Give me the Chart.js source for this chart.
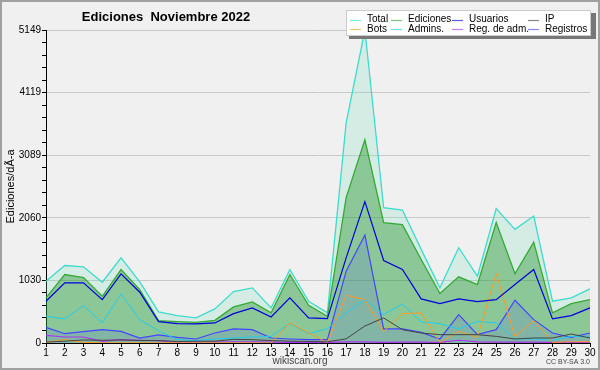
<!DOCTYPE html>
<html>
<head>
<meta charset="utf-8">
<script src="https://cdn.jsdelivr.net/npm/chart.js@4"></script>
<style>
  html, body { margin: 0; padding: 0; background: #f0f0f0; }
  canvas { display: block; }
</style>
</head>
<body>
<canvas id="grafico" width="600" height="370"></canvas>
<script>
let chart;

// días de noviembre
const dias = ["1","2","3","4","5","6","7","8","9","10","11","12","13","14","15","16","17","18","19","20","21","22","23","24","25","26","27","28","29","30"];

const total      = [1016,1275,1254,1000,1402,1006,511,450,412,561,846,907,577,1209,687,495,3620,5149,2228,2188,1540,907,1567,1099,2211,1869,2089,687,742,891];
const ediciones  = [742,1127,1077,769,1209,879,368,351,340,373,594,676,495,1127,620,439,2392,3343,1980,1947,1374,813,1089,962,1980,1138,1660,495,648,714];
const usuarios   = [687,990,990,714,1138,835,351,318,313,330,483,577,429,742,412,401,1400,2326,1358,1209,726,648,726,681,714,962,1209,396,450,577];
const ip         = [15,30,50,45,50,40,40,25,30,30,60,55,40,30,25,20,68,280,412,219,165,137,137,137,109,66,82,82,148,82];
const bots       = [10,55,10,3,3,3,3,3,3,3,3,3,0,330,165,5,786,714,191,483,495,10,191,92,1143,103,368,10,20,20];
const admins     = [439,396,615,330,808,384,203,54,40,66,82,99,109,318,153,236,495,714,467,643,346,318,231,357,330,66,66,45,109,109];
const regAdm     = [125,99,99,26,54,45,40,12,15,15,20,20,15,10,10,10,20,20,10,15,15,10,45,20,15,15,15,10,10,10];
const registros  = [257,153,186,219,191,82,132,92,66,165,231,219,82,66,54,54,1182,1776,231,231,175,66,467,137,219,703,384,165,92,165];

const maxY = 5149;
const yTickLabels = ["0","1030","2060","3089","4119","5149"];

const FONT = "'Liberation Sans', Arial, sans-serif";

// título, leyenda, créditos y marco
const decoracion = {
  id: "decoracion",
  beforeDraw(c){
    const ctx = c.ctx;
    ctx.save();
    ctx.fillStyle = "#f0f0f0";
    ctx.fillRect(0, 0, c.width, c.height);
    ctx.restore();
  },
  afterDraw(c){
    const ctx = c.ctx;
    ctx.save();

    // titulo
    ctx.fillStyle = "#000";
    ctx.font = "bold 13px " + FONT;
    ctx.textAlign = "center";
    ctx.textBaseline = "middle";
    ctx.fillText("Ediciones  Noviembre 2022", 166, 17);

    // créditos
    ctx.font = "10px " + FONT;
    ctx.fillStyle = "#444";
    ctx.fillText("wikiscan.org", 300, 361);
    ctx.font = "7px " + FONT;
    ctx.textAlign = "right";
    ctx.fillText("CC BY-SA 3.0", 590, 362);

    // leyenda
    ctx.fillStyle = "#777";
    ctx.fillRect(349, 13, 247, 26);
    ctx.fillStyle = "#fff";
    ctx.fillRect(346, 10, 245, 26);
    ctx.strokeStyle = "#ccc";
    ctx.lineWidth = 1;
    ctx.strokeRect(346.5, 10.5, 244, 25);

    const cols = [367, 408, 469, 545];
    const filas = [19.5, 29];
    ctx.font = "10px " + FONT;
    ctx.textAlign = "left";
    c.data.datasets.forEach((ds, i) => {
      const x = cols[i % 4];
      const y = filas[Math.floor(i / 4)];
      ctx.globalAlpha = 0.65;
      ctx.strokeStyle = ds.borderColor;
      ctx.lineWidth = 1.2;
      ctx.beginPath();
      ctx.moveTo(x - 17, Math.round(y) + 0.5);
      ctx.lineTo(x - 6, Math.round(y) + 0.5);
      ctx.stroke();
      ctx.globalAlpha = 1;
      ctx.fillStyle = "#000";
      ctx.fillText(ds.label, x, y);
    });

    // marco exterior
    ctx.strokeStyle = "#a0a0a0";
    ctx.lineWidth = 2;
    ctx.strokeRect(1, 1, c.width - 2, c.height - 2);
    ctx.restore();
  }
};

function gerarGrafico(){

  const canvas = document.getElementById("grafico");

  if(chart){
    chart.destroy();
  }

  chart = new Chart(canvas, {
    type: "line",
    data: {
      labels: dias,
      datasets: [
        { label: "Total", data: total, borderColor: "#3cdccc", backgroundColor: "rgba(120,225,190,0.22)", fill: "origin", borderWidth: 1.3, order: 10 },
        { label: "Ediciones", data: ediciones, borderColor: "#33aa33", backgroundColor: "rgba(0,130,0,0.34)", fill: "origin", borderWidth: 1.3, order: 9 },
        { label: "Usuarios", data: usuarios, borderColor: "#0000dd", borderWidth: 1.2, order: 1 },
        { label: "IP", data: ip, borderColor: "#444444", borderWidth: 1, order: 2 },
        { label: "Bots", data: bots, borderColor: "#ff9922", borderWidth: 1, order: 3 },
        { label: "Admins.", data: admins, borderColor: "#22ccee", borderWidth: 1, order: 4 },
        { label: "Reg. de adm.", data: regAdm, borderColor: "#aa33ee", borderWidth: 1.2, order: 5 },
        { label: "Registros", data: registros, borderColor: "#4444ff", backgroundColor: "rgba(80,80,255,0.15)", fill: "origin", borderWidth: 1.2, order: 6 }
      ]
    },
    options: {
      responsive: false,
      animation: false,
      events: [],
      elements: {
        point: { radius: 0 },
        line: { tension: 0 }
      },
      layout: {
        padding: { left: 0, right: 10, top: 30, bottom: 0 }
      },
      plugins: {
        legend: { display: false },
        tooltip: { enabled: false }
      },
      scales: {
        x: {
          offset: false,
          grid: { drawOnChartArea: false, color: "#000", tickLength: 4 },
          border: { color: "#000", width: 1 },
          ticks: { color: "#000", font: { family: FONT, size: 10 }, padding: 0, maxRotation: 0, autoSkip: false },
          afterFit(scale){ scale.height = 27; }
        },
        y: {
          min: 0,
          max: maxY,
          afterBuildTicks(scale){
            const t = [];
            for(let i = 0; i <= 25; i++){
              t.push({ value: i * maxY / 25 });
            }
            scale.ticks = t;
          },
          grid: {
            color: (ctx) => (ctx.index % 5 === 0 ? "#c8c8c8" : "rgba(0,0,0,0)"),
            tickColor: "#000",
            tickLength: 4
          },
          border: { color: "#000", width: 1 },
          ticks: {
            autoSkip: false,
            color: "#000",
            font: { family: FONT, size: 10 },
            padding: 1,
            callback: function(v, i){
              return i % 5 === 0 ? yTickLabels[i / 5] : "";
            }
          },
          title: {
            display: true,
            text: "Ediciones/dÃ-a",
            color: "#000",
            font: { family: FONT, size: 11 },
            padding: { top: 4, bottom: 0 }
          },
          afterFit(scale){ scale.width = 46; }
        }
      }
    },
    plugins: [decoracion]
  });
}

gerarGrafico();
</script>
</body>
</html>
